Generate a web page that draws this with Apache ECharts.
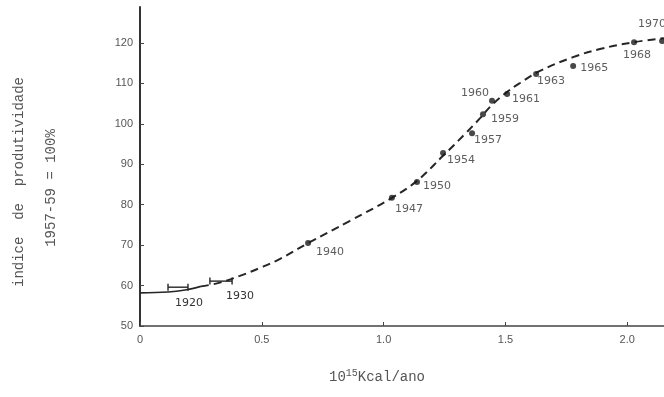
<!DOCTYPE html>
<html>
<head>
<meta charset="utf-8">
<script src="https://cdn.jsdelivr.net/npm/echarts@6/dist/echarts.min.js"></script>
<style>
  html, body { margin: 0; padding: 0; background: #fff; }
  #chart { width: 664px; height: 397px; }
</style>
</head>
<body>
<div id="chart"></div>
<script>
// Observed yearly points: energy use (10^15 Kcal/ano) vs. productivity index
const years   = ['1940', '1947', '1950', '1954', '1957', '1959', '1960', '1961', '1963', '1965', '1968', '1970'];
const energy  = [0.690, 1.034, 1.137, 1.244, 1.363, 1.408, 1.445, 1.507, 1.626, 1.778, 2.028, 2.143];
const index   = [70.5, 81.7, 85.6, 92.8, 97.7, 102.4, 105.7, 107.4, 112.3, 114.3, 120.2, 120.5];

// Decade estimates drawn as horizontal ranges
const rangeYears = ['1920', '1930'];
const rangeLow   = [0.115, 0.287];
const rangeHigh  = [0.197, 0.378];
const rangeIndex = [59.6, 61.1];

// Hand-drawn trend: solid early part, dashed continuation
const solidX  = [0, 0.115, 0.185, 0.25];
const solidY  = [58.2, 58.4, 58.9, 59.8];
const dashedX = [0.25, 0.32, 0.41, 0.49, 0.575, 0.690, 0.862, 1.034, 1.137, 1.244, 1.334, 1.396, 1.445, 1.507, 1.560, 1.642, 1.778, 1.888, 2.028, 2.151];
const dashedY = [59.8, 60.6, 62.4, 64.3, 66.6, 70.5, 76.0, 81.7, 85.9, 92.1, 97.5, 101.4, 104.7, 107.9, 110.1, 113.1, 116.5, 118.5, 120.2, 121.2];

// Axis ticks
const xTicks = [0, 0.5, 1.0, 1.5, 2.0];
const xTickLabels = ['0', '0.5', '1.0', '1.5', '2.0'];
const yTicks = [50, 60, 70, 80, 90, 100, 110, 120];

// Label placement relative to each mark (pixels)
const yearLabelOffset = {
  '1940': [22, 9], '1947': [17, 11], '1950': [20, 4], '1954': [18, 7],
  '1957': [16, 7], '1959': [22, 5], '1960': [-17, -8], '1961': [19, 5],
  '1963': [15, 7], '1965': [21, 2], '1968': [3, 13], '1970': [-10, -17]
};
const rangeLabelOffset = { '1920': [0, 16], '1930': [0, 15] };
const rangeLabelShift = { '1920': 11, '1930': 19 };

const ink = '#262626';
const soft = '#555';
const numFont = '"Liberation Sans", Arial, sans-serif';
const monoFont = '"Liberation Mono", "DejaVu Sans Mono", monospace';

const chart = echarts.init(document.getElementById('chart'));

chart.setOption({
  animation: false,
  backgroundColor: '#fff',
  grid: { left: 140, right: 0, top: 7, bottom: 71, containLabel: false },
  xAxis: {
    type: 'value',
    min: 0,
    max: 2.151,
    splitLine: { show: false },
    axisLine: { lineStyle: { color: '#444', width: 1.5 } },
    axisTick: { inside: true, length: 4, customValues: xTicks, lineStyle: { color: '#444', width: 1 } },
    axisLabel: {
      customValues: xTicks,
      margin: 8,
      color: soft,
      fontFamily: numFont,
      fontSize: 11,
      formatter: function (v) {
        const i = xTicks.findIndex(t => Math.abs(t - v) < 1e-6);
        return i >= 0 ? xTickLabels[i] : '';
      }
    }
  },
  yAxis: {
    type: 'value',
    min: 50,
    max: 128.9,
    splitLine: { show: false },
    axisLine: { lineStyle: { color: '#333', width: 2 } },
    axisTick: { inside: true, length: 4, customValues: yTicks, lineStyle: { color: '#444', width: 1 } },
    axisLabel: {
      customValues: yTicks,
      margin: 7,
      color: soft,
      fontFamily: numFont,
      fontSize: 11
    }
  },
  graphic: [
    {
      type: 'text', x: 19, y: 182, rotation: Math.PI / 2,
      style: {
        text: 'indice  de  produtividade', fill: soft,
        font: '14px ' + monoFont, align: 'center', verticalAlign: 'middle'
      }
    },
    {
      type: 'text', x: 51, y: 188, rotation: Math.PI / 2,
      style: {
        text: '1957-59 = 100%', fill: soft,
        font: '14px ' + monoFont, align: 'center', verticalAlign: 'middle'
      }
    },
    {
      type: 'text', x: 377, y: 377,
      style: {
        text: '{b|10}{s|15}{b|Kcal/ano}',
        align: 'center', verticalAlign: 'middle',
        rich: {
          b: { fontFamily: monoFont, fontSize: 14, fill: soft, color: soft },
          s: { fontFamily: monoFont, fontSize: 10, fill: soft, color: soft, verticalAlign: 'top', padding: [0, 0, 8, 0] }
        }
      }
    }
  ],
  series: [
    {
      type: 'line',
      data: solidX.map((x, i) => [x, solidY[i]]),
      smooth: 0.4,
      symbol: 'none',
      lineStyle: { color: ink, width: 1.6, type: 'solid' },
      silent: true,
      z: 2
    },
    {
      type: 'line',
      data: dashedX.map((x, i) => [x, dashedY[i]]),
      smooth: 0.4,
      symbol: 'none',
      lineStyle: { color: ink, width: 2, type: [8, 5] },
      silent: true,
      z: 2
    },
    {
      type: 'custom',
      data: rangeYears.map((y, i) => [rangeLow[i], rangeHigh[i], rangeIndex[i], y]),
      renderItem: function (params, api) {
        const a = api.coord([api.value(0), api.value(2)]);
        const b = api.coord([api.value(1), api.value(2)]);
        const yr = rangeYears[params.dataIndex];
        const off = rangeLabelOffset[yr];
        const mid = (a[0] + b[0]) / 2 + rangeLabelShift[yr];
        const st = { stroke: ink, lineWidth: 1.4 };
        return {
          type: 'group',
          children: [
            { type: 'line', shape: { x1: a[0], y1: a[1], x2: b[0], y2: b[1] }, style: st },
            { type: 'line', shape: { x1: a[0], y1: a[1] - 3.5, x2: a[0], y2: a[1] + 3.5 }, style: st },
            { type: 'line', shape: { x1: b[0], y1: b[1] - 3.5, x2: b[0], y2: b[1] + 3.5 }, style: st },
            {
              type: 'text',
              style: {
                text: yr, x: mid + off[0], y: a[1] + off[1],
                align: 'center', verticalAlign: 'middle',
                fill: '#333', font: '11px "DejaVu Sans", sans-serif'
              }
            }
          ]
        };
      },
      z: 3
    },
    {
      type: 'scatter',
      symbol: 'circle',
      symbolSize: 6,
      itemStyle: { color: '#1a1a1a' },
      clip: false,
      data: years.map((y, i) => ({
        value: [energy[i], index[i]],
        name: y,
        label: { offset: yearLabelOffset[y] }
      })),
      label: {
        show: true,
        position: 'inside',
        formatter: '{b}',
        color: '#333',
        fontFamily: '"DejaVu Sans", sans-serif',
        fontSize: 11,
        align: 'center',
        verticalAlign: 'middle'
      },
      z: 4
    }
  ]
});
</script>
</body>
</html>
